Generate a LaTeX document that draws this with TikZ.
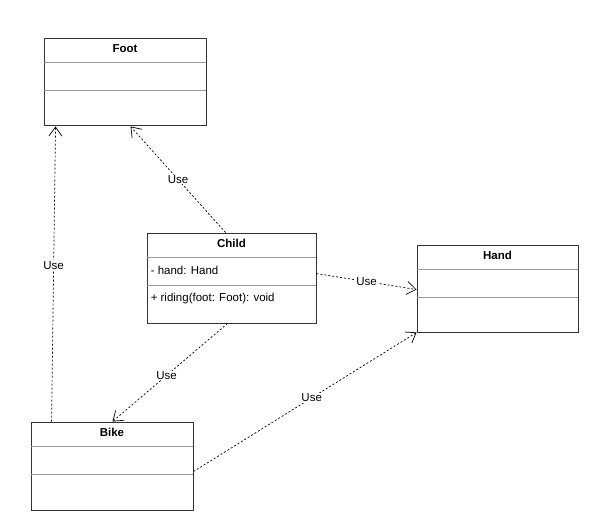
\documentclass[tikz,border=0pt]{standalone}
\usepackage{fontspec}
\setmainfont{Liberation Sans}
\usetikzlibrary{positioning,arrows.meta,calc}
\tikzset{
  >={Straight Barb[length=9pt,width=13pt]},
  umlclass/.style={draw=black!80,line width=0.9pt,inner sep=0pt,
    minimum width=162pt,minimum height=87pt},
  clsname/.style={font=\fontsize{11.5}{13}\selectfont\bfseries,inner sep=1pt},
  clsmember/.style={font=\fontsize{11.5}{13}\selectfont,inner sep=1pt,anchor=west},
  sepline/.style={black!40,line width=0.8pt},
  use/.style={->,line width=0.7pt,dash pattern=on 2pt off 2pt},
  uselbl/.style={font=\fontsize{11.5}{13}\selectfont,fill=white,inner sep=0.8pt},
}
% two compartment separators below the class name
\newcommand{\compartments}[1]{%
  \draw[sepline] ($(#1.north west)+(0,25)$) -- ($(#1.north east)+(0,25)$);
  \draw[sepline] ($(#1.north west)+(0,53)$) -- ($(#1.north east)+(0,53)$);}
\begin{document}
\begin{tikzpicture}[x=1pt,y=-1pt]
  \useasboundingbox (0,0) rectangle (591,530);
  % classes
  \node[umlclass] (foot) at (125,81.5) {};
  \node[umlclass,minimum width=169pt,minimum height=90pt] (child) at (231.5,278) {};
  \node[umlclass,minimum width=161pt] (hand) at (497.5,288.5) {};
  \node[umlclass,minimum height=88pt] (bike) at (112,466) {};
  \foreach \c/\t in {foot/Foot,child/Child,hand/Hand,bike/Bike}{
    \compartments{\c}
    \node[clsname] (\c-name) at ($(\c.north)+(0,11)$) {\t};
  }
  \node[clsmember] (child-attr) at ($(child.north west)+(3,38)$) {- hand: Hand};
  \node[clsmember] (child-op) at ($(child.north west)+(3,66)$) {+ riding(foot: Foot): void};
  % dependencies
  \coordinate (bf-s) at ($(bike.north west)+(21,0)$);
  \coordinate (bf-e) at ($(foot.south west)+(12,1)$);
  \coordinate (cf-s) at ($(child.north west)+(79,0)$);
  \coordinate (cf-e) at ($(foot.south west)+(87,1)$);
  \coordinate (ch-s) at ($(child.north east)+(0,41)$);
  \coordinate (ch-e) at ($(hand.north west)+(0,45)$);
  \coordinate (cb-s) at ($(child.south west)+(81,0)$);
  \coordinate (cb-e) at ($(bike.north west)+(82,0)$);
  \coordinate (bh-s) at ($(bike.north east)+(0,50)$);
  \coordinate (bh-e) at (hand.south west);
  \draw[use] (bf-s) -- node[uselbl,pos=0.53] (lbl-bf) {Use} (bf-e);
  \draw[use] (cf-s) -- node[uselbl,pos=0.5] (lbl-cf) {Use} (cf-e);
  \draw[use] (ch-s) -- node[uselbl,pos=0.5] (lbl-ch) {Use} (ch-e);
  \draw[use] (cb-s) -- node[uselbl,pos=0.53] (lbl-cb) {Use} (cb-e);
  \draw[use] (bh-s) -- node[uselbl,pos=0.53] (lbl-bh) {Use} (bh-e);
\end{tikzpicture}
\end{document}
